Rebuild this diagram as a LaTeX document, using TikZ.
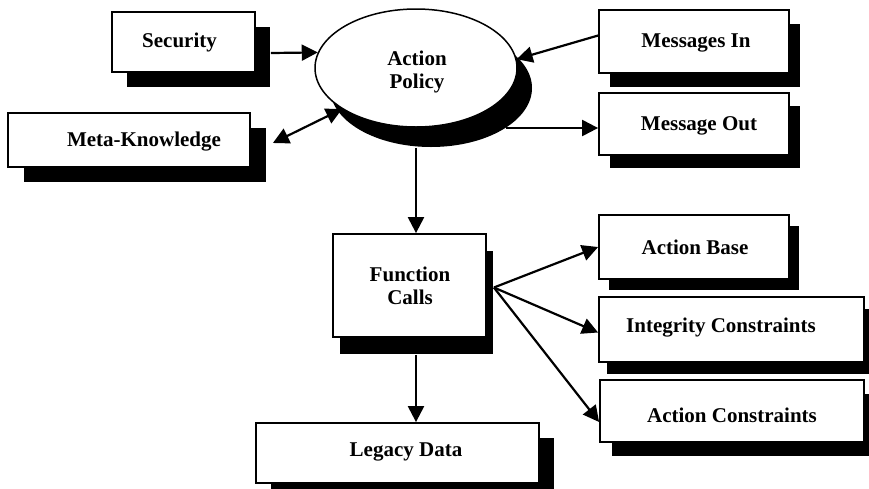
\documentclass[tikz,border=0pt]{standalone}
\usepackage{fontspec}
\setmainfont{Liberation Serif}
\usetikzlibrary{shapes.geometric,shadows,arrows.meta}

\tikzset{
  boxshape/.style={draw=black, line width=1.8pt, fill=white, rectangle, inner sep=0pt},
  sh/.style 2 args={general shadow={fill=black, draw=none, shadow xshift=#1, shadow yshift=#2}},
  lbl/.style={font=\fontsize{21}{23}\selectfont\bfseries, align=center, inner sep=0pt},
  tip/.tip={Triangle[length=16pt,width=16pt]},
  arr/.style={line width=2.2pt, -tip},
  dblarr/.style={line width=2.2pt, tip-tip}
}

\begin{document}
\begin{tikzpicture}[x=1pt,y=-1pt]
\useasboundingbox (0,0) rectangle (869,488);

% boxes with solid drop shadows
\node[boxshape, sh={15pt}{-15pt}, minimum width=143pt, minimum height=60pt] (sec) at (183.5,42) {};
\node[boxshape, sh={16pt}{-15pt}, minimum width=242pt, minimum height=54pt] (meta) at (129,140) {};
\node[boxshape, sh={11pt}{-14pt}, minimum width=190pt, minimum height=63pt] (msgin) at (694,41.5) {};
\node[boxshape, sh={11pt}{-13pt}, minimum width=190pt, minimum height=62pt] (msgout) at (694,124) {};
\node[boxshape, sh={7pt}{-17pt}, minimum width=153pt, minimum height=103pt] (fc) at (409.5,285.5) {};
\node[boxshape, sh={10pt}{-11pt}, minimum width=190pt, minimum height=64pt] (ab) at (694,247) {};
\node[boxshape, sh={8pt}{-12pt}, minimum width=265pt, minimum height=65pt] (ic) at (731.5,329.5) {};
\node[boxshape, sh={12pt}{-14pt}, minimum width=264pt, minimum height=62pt] (acn) at (732,411) {};
\node[boxshape, sh={15pt}{-15pt}, minimum width=283pt, minimum height=60pt] (leg) at (397.5,453) {};

% central ellipse
\node[ellipse, draw=black, line width=1.5pt, fill=white, sh={15pt}{-20pt},
      minimum width=202pt, minimum height=118pt, inner sep=0pt] (ap) at (416,68) {};

% labels
\node[lbl] (secT) at (179.5,42) {Security};
\node[lbl] (apT) at (417,72) {Action\\Policy};
\node[lbl] (metaT) at (144,142) {Meta-Knowledge};
\node[lbl] (msginT) at (696,43) {Messages In};
\node[lbl] (msgoutT) at (699,126) {Message Out};
\node[lbl] (fcT) at (410,286) {Function\\Calls};
\node[lbl] (abT) at (695,247) {Action Base};
\node[lbl] (icT) at (721,328) {Integrity Constraints};
\node[lbl] (acnT) at (732,415) {Action Constraints};
\node[lbl] (legT) at (406,452) {Legacy Data};

% helper points on shadow edges
\coordinate (apShadow) at ([yshift=-20pt]ap.south);
\coordinate (fcShadow) at ([yshift=-17pt]fc.south);

% connectors
\draw[arr] ([xshift=15pt,yshift=-11pt]sec.east) -- (ap.171);
\draw[dblarr] ([xshift=22pt,yshift=-3pt]meta.east) -- (ap.209);
\draw[arr] ([yshift=6pt]msgin.west) -- (ap.5);
\draw[arr] ([xshift=90pt,yshift=-60pt]ap.center) -- ([yshift=-4pt]msgout.west);
\draw[arr] (apShadow) -- (apShadow |- fc.north);
\draw[arr] (fcShadow -| apShadow) -- (apShadow |- leg.north);
\draw[arr] ([xshift=7pt,yshift=-2pt]fc.east) -- (ab.west);
\draw[arr] ([xshift=7pt,yshift=-2pt]fc.east) -- ([yshift=-3pt]ic.west);
\draw[arr] ([xshift=7pt,yshift=-2pt]fc.east) -- ([yshift=-11pt]acn.west);
\end{tikzpicture}
\end{document}
